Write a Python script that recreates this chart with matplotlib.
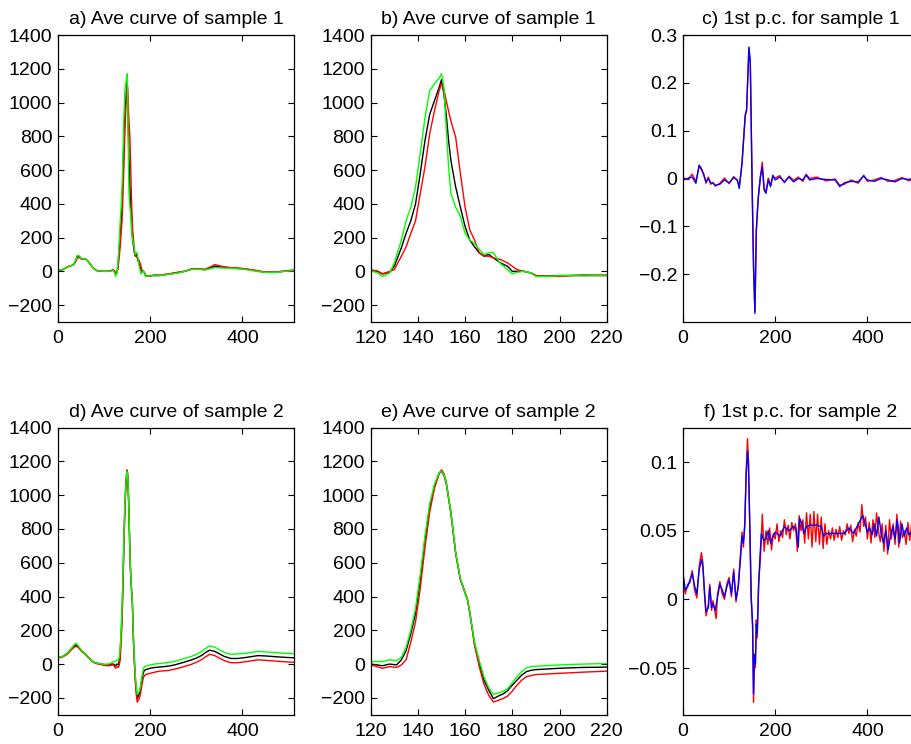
import matplotlib
matplotlib.use("Agg")
import matplotlib.pyplot as plt

plt.rcParams['font.family'] = ['Liberation Sans', 'DejaVu Sans']
plt.rcParams['font.size'] = 14

# ---- sample 1: average curves (black = mean, red / green = the two bounds)
x1 = [0, 10, 22, 33, 38, 42, 47, 51, 59, 65, 70, 76, 83, 90, 100, 110, 116, 120, 123, 125,
      128, 130, 133, 135, 137, 139, 141, 143, 145, 147, 149, 150, 151, 152, 153, 154, 156,
      158, 160, 162, 164, 166, 168, 170, 172, 175, 178, 180, 182, 185, 188, 190, 195, 200,
      210, 220, 239, 260, 275, 289, 305, 318, 330, 340, 355, 376, 390, 405, 425, 448, 465,
      477, 495, 512]
black1 = [5, 10, 28, 38, 60, 90, 85, 73, 75, 60, 42, 20, 5, 2, 0, 0, 4, 8, 0, -15,
          -5, 30, 140, 225, 300, 400, 580, 775, 930, 1010, 1090, 1135, 1050, 930, 775, 655, 500,
          380, 265, 185, 145, 110, 90, 100, 80, 50, 30, 0, 0, 0, -10, -25, -28, -25,
          -25, -25, -17, -8, 0, 12, 14, 10, 20, 30, 25, 20, 17, 14, 5, -5, -6,
          -4, 2, 5]
green1 = [5, 10, 28, 38, 65, 95, 90, 75, 75, 60, 42, 20, 5, 2, 0, 0, 2, 5, -10, -30,
          -10, 50, 185, 300, 380, 500, 700, 910, 1070, 1110, 1145, 1170, 1090, 850, 620, 460, 380,
          325, 225, 185, 165, 130, 100, 110, 110, 45, 10, -15, -5, 0, -10, -30, -30, -25,
          -22, -25, -18, -10, 0, 12, 12, 8, 15, 22, 20, 18, 15, 12, 3, -6, -7,
          -5, 1, 4]
red1 = [5, 10, 28, 38, 55, 80, 82, 72, 75, 60, 42, 22, 6, 2, 0, 2, 6, 10, 0, -15,
        0, 10, 90, 145, 225, 300, 460, 620, 815, 950, 1070, 1110, 1080, 1010, 950, 890, 795,
        580, 380, 245, 185, 110, 90, 90, 80, 70, 50, 30, 10, 0, -10, -25, -30, -30,
        -20, -22, -15, -5, 2, 15, 15, 12, 25, 40, 30, 22, 20, 16, 8, -3, -4,
        -2, 4, 8]

# ---- sample 2: average curves
x2 = [0, 10, 20, 30, 36, 40, 45, 51, 60, 72, 80, 87, 100, 110, 115, 120, 125, 128, 131, 133,
      135, 137, 139, 141, 143, 145, 147, 149, 150, 151, 152, 154, 156, 158, 160, 161, 162,
      164, 166, 168, 170, 172, 174, 176, 178, 180, 182, 184, 186, 188, 190, 200, 210, 220,
      240, 253, 270, 289, 300, 311, 320, 329, 340, 361, 375, 390, 410, 434, 450, 470, 490, 512]
black2 = [38, 45, 62, 92, 110, 113, 100, 78, 58, 22, 8, 4, -3, -3, 0, 0, -10, 0, -5, 25,
          80, 180, 300, 500, 735, 930, 1050, 1130, 1140, 1120, 1070, 890, 655, 500, 420, 380, 300,
          120, 5, -95, -155, -205, -190, -178, -158, -125, -95, -65, -45, -37, -33, -25, -20, -18,
          -12, -5, 8, 24, 35, 50, 68, 82, 75, 45, 33, 33, 40, 50, 48, 44, 40, 37]
green2 = [38, 45, 65, 97, 118, 122, 105, 80, 58, 22, 8, 4, -2, 0, 5, 15, 15, 25, 20, 40,
          100, 200, 330, 530, 760, 950, 1065, 1135, 1140, 1125, 1075, 895, 660, 505, 420, 380, 305,
          130, 20, -75, -140, -180, -172, -163, -145, -110, -75, -45, -22, -15, -13, -5, 0, 3,
          10, 15, 30, 45, 57, 73, 92, 107, 100, 68, 58, 60, 65, 75, 72, 68, 64, 62]
red2 = [35, 42, 58, 88, 102, 105, 95, 75, 55, 20, 5, 0, -8, -10, -8, -5, -25, -15, -20, -5,
        25, 130, 250, 450, 690, 900, 1040, 1130, 1150, 1130, 1080, 900, 660, 505, 425, 385, 310,
        110, -15, -120, -185, -225, -215, -205, -190, -160, -125, -95, -75, -68, -62, -55, -48, -42,
        -38, -30, -18, -2, 10, 25, 42, 58, 50, 20, 8, 8, 15, 25, 22, 18, 14, 10]

# ---- sample 1: first principal component
xc = [0, 10, 20, 28, 35, 40, 45, 50, 55, 60, 65, 70, 80, 90, 100, 110, 118, 122, 128, 135,
      138, 143, 146, 150, 153, 156, 159, 163, 168, 172, 176, 180, 185, 190, 195, 200, 210,
      220, 230, 240, 250, 260, 267, 275, 290, 310, 330, 340, 350, 365, 380, 392, 400, 415,
      430, 445, 460, 475, 490, 512]
blue_c = [-0.003, 0.0, 0.003, -0.010, 0.028, 0.021, 0.007, -0.007, 0.0, -0.009, -0.010, -0.014,
          -0.012, -0.003, -0.009, 0.002, -0.003, -0.021, 0.031, 0.133, 0.143, 0.275, 0.24,
          -0.017, -0.185, -0.282, -0.108, -0.045, 0.003, 0.024, -0.024, -0.031, -0.003, -0.017,
          0.007, -0.003, 0.003, -0.007, 0.003, -0.007, 0.0, -0.003, 0.007, -0.003, 0.0, -0.002,
          -0.003, -0.017, -0.009, -0.006, -0.007, 0.005, -0.003, -0.006, 0.0, -0.003, -0.007,
          0.0, -0.002, 0.003]
red_c = [0.002, -0.002, 0.009, -0.006, 0.026, 0.018, 0.010, -0.010, 0.003, -0.012, -0.008,
         -0.016, -0.010, 0.001, -0.011, 0.004, -0.005, -0.018, 0.033, 0.130, 0.145, 0.272,
         0.245, -0.012, -0.180, -0.278, -0.112, -0.040, 0.006, 0.034, -0.020, -0.028, 0.001,
         -0.014, 0.004, 0.001, 0.006, -0.009, 0.005, -0.004, 0.003, -0.006, 0.009, 0.000,
         0.003, -0.005, -0.001, -0.014, -0.012, -0.003, -0.010, 0.007, -0.006, -0.003, 0.002,
         -0.006, -0.004, 0.002, -0.005, 0.006]

# ---- sample 2: first principal component
xf = [0, 5, 10, 15, 20, 25, 30, 35, 40, 43, 47, 50, 55, 58, 62, 65, 70, 75, 80, 85, 90, 95,
      100, 105, 110, 115, 120, 125, 128, 131, 134, 137, 140, 142, 145, 148, 151, 153, 155,
      157, 159, 161, 164, 167, 170, 175, 180, 185, 190, 195, 200, 210, 220, 230, 240, 245,
      250, 253, 258, 262, 268, 275, 290, 300, 305, 310, 320, 340, 350, 360, 370, 385, 390,
      395, 400, 405, 410, 415, 420, 425, 430, 435, 440, 445, 450, 455, 460, 465, 470, 475,
      480, 485, 490, 495, 500, 512]
blue_f = [0.019, 0.007, 0.009, 0.014, 0.019, 0.010, 0.004, 0.021, 0.029, 0.024, 0.004, -0.009,
          -0.006, 0.009, -0.006, -0.003, -0.008, 0.002, 0.011, 0.007, 0.002, 0.009, 0.014,
          0.004, 0.020, 0.0, 0.009, 0.031, 0.046, 0.041, 0.053, 0.090, 0.108, 0.099, 0.053,
          0.002, -0.018, -0.069, -0.040, -0.047, -0.018, -0.025, 0.009, 0.031, 0.048, 0.043,
          0.044, 0.050, 0.041, 0.046, 0.049, 0.046, 0.053, 0.050, 0.053, 0.052, 0.038, 0.059,
          0.055, 0.048, 0.053, 0.054, 0.054, 0.053, 0.046, 0.048, 0.048, 0.048, 0.048, 0.052,
          0.048, 0.058, 0.061, 0.055, 0.049, 0.052, 0.047, 0.055, 0.046, 0.060, 0.048, 0.041,
          0.050, 0.036, 0.046, 0.053, 0.044, 0.058, 0.041, 0.055, 0.046, 0.052, 0.047, 0.049,
          0.048, 0.050]
xf_red = [0, 5, 10, 15, 20, 25, 30, 35, 40, 43, 47, 50, 55, 58, 62, 65, 72, 75, 80, 85, 90,
          95, 100, 105, 110, 115, 120, 125, 128, 131, 134, 137, 140, 142, 145, 148, 151, 153,
          155, 157, 159, 161, 164, 168, 172, 176, 180, 184, 188, 192, 196, 200, 204, 208, 212,
          216, 220, 224, 228, 232, 236, 240, 244, 248, 252, 256, 260, 264, 268, 272, 276, 280,
          284, 288, 292, 296, 300, 304, 308, 312, 316, 320, 324, 328, 332, 336, 340, 344, 348,
          352, 356, 360, 364, 368, 372, 376, 380, 384, 388, 392, 396, 400, 404, 408, 412, 416,
          420, 424, 428, 432, 436, 440, 444, 448, 452, 456, 460, 464, 468, 472, 476, 480, 484,
          488, 492, 496, 500, 504, 508, 512]
red_f = [0.015, 0.004, 0.011, 0.012, 0.021, 0.007, 0.001, 0.024, 0.034, 0.027, 0.001, -0.012,
         -0.004, 0.011, -0.008, -0.001, -0.014, 0.004, 0.013, 0.004, 0.000, 0.011, 0.016,
         0.002, 0.022, -0.002, 0.011, 0.034, 0.049, 0.038, 0.056, 0.093, 0.117, 0.101, 0.050,
         -0.001, -0.020, -0.075, -0.044, -0.050, -0.015, -0.028, 0.012, 0.030, 0.062, 0.035,
         0.050, 0.040, 0.052, 0.036, 0.048, 0.044, 0.055, 0.042, 0.050, 0.045, 0.058, 0.047,
         0.054, 0.044, 0.056, 0.050, 0.055, 0.035, 0.061, 0.050, 0.058, 0.041, 0.063, 0.044,
         0.062, 0.038, 0.064, 0.042, 0.062, 0.040, 0.060, 0.037, 0.055, 0.040, 0.050, 0.044,
         0.052, 0.043, 0.051, 0.045, 0.053, 0.043, 0.050, 0.047, 0.055, 0.048, 0.054, 0.042,
         0.051, 0.046, 0.056, 0.049, 0.069, 0.053, 0.060, 0.044, 0.056, 0.041, 0.058, 0.045,
         0.063, 0.050, 0.042, 0.055, 0.035, 0.054, 0.033, 0.058, 0.044, 0.055, 0.040, 0.062,
         0.038, 0.057, 0.045, 0.050, 0.040, 0.056, 0.043, 0.055, 0.046, 0.053, 0.048, 0.050]

titles = ['a) Ave curve of sample 1', 'b) Ave curve of sample 1', 'c) 1st p.c. for sample 1',
          'd) Ave curve of sample 2', 'e) Ave curve of sample 2', 'f) 1st p.c. for sample 2']
ave_yticks = [-200, 0, 200, 400, 600, 800, 1000, 1200, 1400]
pc1_yticks = [-0.2, -0.1, 0, 0.1, 0.2, 0.3]
pc1_ylabels = ['\u22120.2', '\u22120.1', '0', '0.1', '0.2', '0.3']
pc2_yticks = [-0.05, 0, 0.05, 0.1]
pc2_ylabels = ['\u22120.05', '0', '0.05', '0.1']

W, H = 911, 744
fig = plt.figure(figsize=(W / 100, H / 100), dpi=100)

lefts = [58, 370.7, 683]
tops = [35, 427.7]
aw, ah = 236, 287


def make_ax(row, col):
    l = lefts[col]
    t = tops[row]
    ax = fig.add_axes([l / W, 1 - (t + ah) / H, aw / W, ah / H])
    ax.tick_params(direction='in', top=True, right=True, length=4, width=0.8)
    ax.tick_params(axis='x', pad=6)
    ax.tick_params(axis='y', pad=4)
    for s in ax.spines.values():
        s.set_linewidth(0.9)
    return ax


def ave_panel(ax, x, k, r, g, xlim, xticks, title):
    ax.plot(x, k, color='black', lw=1.0)
    ax.plot(x, r, color='#ff0000', lw=1.0)
    ax.plot(x, g, color='#00ff00', lw=1.0)
    ax.set_xlim(*xlim)
    ax.set_ylim(-300, 1400)
    ax.set_xticks(xticks)
    ax.set_yticks(ave_yticks)
    ax.set_yticklabels([str(v).replace('-', '\u2212') for v in ave_yticks])
    ax.set_title(title, fontsize=14, pad=8)


ax = make_ax(0, 0)
ave_panel(ax, x1, black1, red1, green1, (0, 512), [0, 200, 400], titles[0])
ax = make_ax(0, 1)
ave_panel(ax, x1, black1, red1, green1, (120, 220), [120, 140, 160, 180, 200, 220], titles[1])

ax = make_ax(0, 2)
ax.plot(xc, red_c, color='#ff0000', lw=1.0)
ax.plot(xc, blue_c, color='#0000ff', lw=1.0)
ax.set_xlim(0, 512)
ax.set_ylim(-0.3, 0.3)
ax.set_xticks([0, 200, 400])
ax.set_yticks(pc1_yticks)
ax.set_yticklabels(pc1_ylabels)
ax.set_title(titles[2], fontsize=14, pad=8)

ax = make_ax(1, 0)
ave_panel(ax, x2, black2, red2, green2, (0, 512), [0, 200, 400], titles[3])
ax = make_ax(1, 1)
ave_panel(ax, x2, black2, red2, green2, (120, 220), [120, 140, 160, 180, 200, 220], titles[4])

ax = make_ax(1, 2)
ax.plot(xf_red, red_f, color='#ff0000', lw=1.0)
ax.plot(xf, blue_f, color='#0000ff', lw=1.0)
ax.set_xlim(0, 512)
ax.set_ylim(-0.084, 0.125)
ax.set_xticks([0, 200, 400])
ax.set_yticks(pc2_yticks)
ax.set_yticklabels(pc2_ylabels)
ax.set_title(titles[5], fontsize=14, pad=8)

fig.savefig('out.png', dpi=100)
